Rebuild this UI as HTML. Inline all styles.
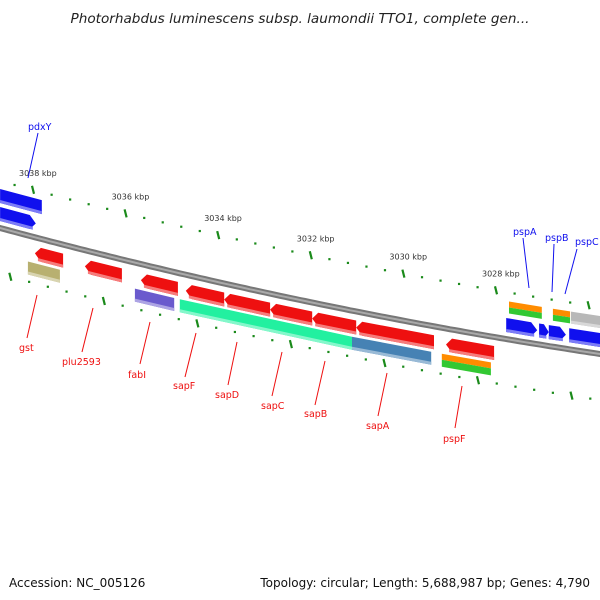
<!DOCTYPE html>
<html><head><meta charset="utf-8"><style>
body{margin:0;background:#fff;}
svg{display:block;font-family:"DejaVu Sans","Liberation Sans",sans-serif;}
</style></head><body>
<svg id="map" width="600" height="600" viewBox="0 0 600 600">
<text x="300" y="23" text-anchor="middle" font-size="13.6" font-style="italic" fill="#222">Photorhabdus luminescens subsp. laumondii TTO1, complete gen...</text>
<text x="9" y="587" font-size="12" fill="#111">Accession: NC_005126</text>
<text x="590" y="587" text-anchor="end" font-size="12" fill="#111">Topology: circular; Length: 5,688,987 bp; Genes: 4,790</text>
<g id="ticks"></g><g id="genes"></g><g id="labels"></g>
</svg>
<script>
// data arrays (kbp coordinates)
const geneStarts = [3038.71,3038.71,3037.96,3038.11,3036.88,3035.67,3035.80,3034.70,3033.87,3032.88,3031.97,3031.02,3034.83,3031.11,3029.08,3029.17,3029.17,3027.72,3027.72,3027.78,3027.07,3026.86,3026.42,3026.77,3026.77,3026.38];
const geneEnds   = [3037.81,3037.94,3037.35,3037.42,3036.08,3034.87,3034.95,3033.87,3032.88,3031.97,3031.02,3029.34,3031.11,3029.40,3028.04,3028.11,3028.11,3027.01,3027.01,3027.11,3026.86,3026.49,3025.75,3026.40,3026.40,3025.75];
const geneColors = ["#1010ee","#1010ee","#ee1010","#b8b070","#ee1010","#ee1010","#6a5acd","#ee1010","#ee1010","#ee1010","#ee1010","#ee1010","#22f0a0","#4682b4","#ee1010","#ff8c00","#32c832","#ff8c00","#32c832","#1010ee","#1010ee","#1010ee","#1010ee","#ff8c00","#32c832","#b8b8b8"];
const geneOffsets= [-39,-21,9,26,9,9,26,9,9,9,9,9,26,26,9,26,32,-38,-32,-21,-21,-21,-21,-38,-32,-38];
const geneHeights= [14,14,14,13,14,14,13,14,14,14,14,14,13,13,14,6,7,6,6,14,14,14,14,6,6,12];
const geneArrows = [0,1,-1,0,-1,-1,0,-1,-1,-1,-1,-1,0,0,-1,0,0,0,0,1,1,1,0,0,0,0];
const tickStart = 3025.6, tickEnd = 3038.8, tickStep = 0.4;
const majorLabels = ["3038 kbp","3036 kbp","3034 kbp","3032 kbp","3030 kbp","3028 kbp"];
const majorValues = [3038,3036,3034,3032,3030,3028];
const labelNames = ["pdxY","pspA","pspB","pspC","gst","plu2593","fabI","sapF","sapD","sapC","sapB","sapA","pspF"];
const labelColors= ["#1010ee","#1010ee","#1010ee","#1010ee","#ee1010","#ee1010","#ee1010","#ee1010","#ee1010","#ee1010","#ee1010","#ee1010","#ee1010"];
const labelTextPos=[[28,130],[513,235],[545,241],[575,245],[19,351],[62,365],[128,378],[173,389],[215,398],[261,409],[304,417],[366,429],[443,442]];
const labelLines = [[38,133,28,178],[523,238,529,288],[554,244,552,292],[577,249,565,294],[37,295,27,338],[93,308,82,352],[150,322,140,364],[196,333,185,377],[237,342,228,385],[282,352,272,396],[325,361,315,405],[387,373,378,416],[462,386,455,428]];

const NS="http://www.w3.org/2000/svg";
function X(k){return 33+(3038-k)*46.3;}
function Y(x){return 228+0.27*x-0.0001*x*x;}
function mk(t,a,p){const e=document.createElementNS(NS,t);for(const k in a)e.setAttribute(k,a[k]);p.appendChild(e);return e;}
const svg=document.getElementById('map');
const bb=[];for(let x=-5;x<=605;x+=5)bb.push(x+','+Y(x).toFixed(1));
const b1=mk('polyline',{points:bb.join(' '),fill:'none',stroke:'#777','stroke-width':6},svg);


const b2=mk('polyline',{points:bb.join(' '),fill:'none',stroke:'#aaa','stroke-width':2},svg);


svg.appendChild(document.getElementById('ticks'));svg.appendChild(document.getElementById('genes'));svg.appendChild(document.getElementById('labels'));
const tg=document.getElementById('ticks');
for(let k=tickEnd;k>=tickStart-1e-6;k-=tickStep){
  const kk=Math.round(k*10)/10;const major=Math.abs(kk/2-Math.round(kk/2))<1e-6;
  const xt=X(kk), xb=xt*1.01-23;
  [[xt,-47],[xb,46]].forEach(([x,o],i)=>{
    const y=Y(x)+o;
    let m;
    if(major){m=mk('line',{x1:x-1,y1:y-4,x2:x+1,y2:y+4,stroke:'#1a8a1a','stroke-width':2.2},tg);}
    else{m=mk('rect',{x:x-1,y:y-1,width:2.2,height:2.2,fill:'#1a8a1a'},tg);}
    
    
  });
}
majorValues.forEach((v,i)=>{
  const x=X(v);const t=mk('text',{x:x-14,y:Y(x)-61,'font-size':8,fill:'#333'},tg);t.textContent=majorLabels[i];
  
  
});
const gg=document.getElementById('genes');
function lighten(c){const n=parseInt(c.slice(1),16);let r=n>>16,g=(n>>8)&255,b=n&255;r=Math.round(r+(255-r)*0.45);g=Math.round(g+(255-g)*0.45);b=Math.round(b+(255-b)*0.45);return `rgb(${r},${g},${b})`;}
geneStarts.forEach((s,i)=>{
  const x1=X(s),x2=X(geneEnds[i]),o=geneOffsets[i],h=geneHeights[i],a=geneArrows[i];
  const head=Math.min(6,(x2-x1)/2);
  const P=(x,dy)=>x.toFixed(1)+','+(Y(x)+dy).toFixed(1);
  let pts;
  if(a===1) pts=[P(x1,o),P(x2-head,o),P(x2,o+h/2),P(x2-head,o+h),P(x1,o+h)];
  else if(a===-1) pts=[P(x1+head,o),P(x2,o),P(x2,o+h),P(x1+head,o+h),P(x1,o+h/2)];
  else pts=[P(x1,o),P(x2,o),P(x2,o+h),P(x1,o+h)];
  const g=mk('polygon',{points:pts.join(' '),fill:geneColors[i]},gg);
  
  
  if(h>8){const sh=mk('polygon',{points:[P(x1+(a===-1?head/2:0),o+h-3),P(x2-(a===1?head/2:0),o+h-3),P(x2-(a===1?head/2:0),o+h),P(x1+(a===-1?head/2:0),o+h)].join(' '),fill:lighten(geneColors[i])},gg);
  
  }
});
const lg=document.getElementById('labels');
labelNames.forEach((n,i)=>{
  const L=labelLines[i];
  const l=mk('line',{x1:L[0],y1:L[1],x2:L[2],y2:L[3],stroke:labelColors[i],'stroke-width':1},lg);
  
  
  const t=mk('text',{x:labelTextPos[i][0],y:labelTextPos[i][1],'font-size':9.5,fill:labelColors[i]},lg);t.textContent=n;
  
  
});
</script>
</body></html>
